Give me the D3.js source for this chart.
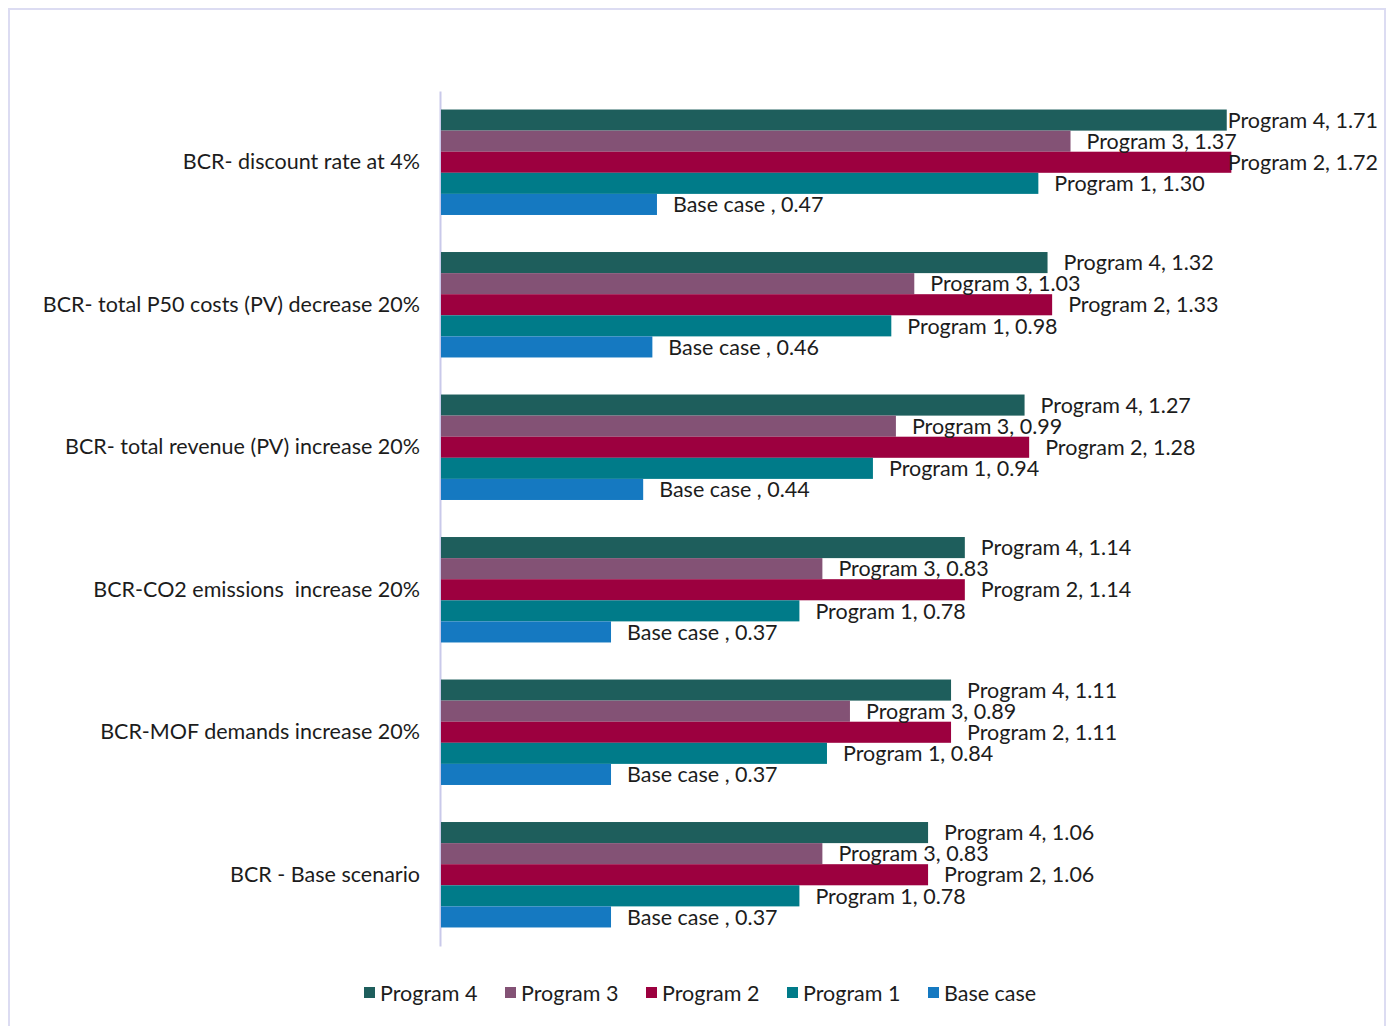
<!DOCTYPE html>
<html>
<head>
<meta charset="utf-8">
<script src="https://cdn.jsdelivr.net/npm/d3@7"></script>
<style>
  html, body { margin: 0; padding: 0; background: #fff; }
  svg { display: block; font-family: Lato, "Open Sans", sans-serif; }
  text { white-space: pre; }
</style>
</head>
<body>
<svg id="chart" width="1394" height="1026"></svg>
<script>
// Benefit-cost ratios per sensitivity scenario
const categories = [
  "BCR- discount rate at 4%",
  "BCR- total P50 costs (PV) decrease 20%",
  "BCR- total revenue (PV) increase 20%",
  "BCR-CO2 emissions  increase 20%",
  "BCR-MOF demands increase 20%",
  "BCR - Base scenario"
];
const seriesNames = ["Program 4", "Program 3", "Program 2", "Program 1", "Base case"];
const labelNames  = ["Program 4", "Program 3", "Program 2", "Program 1", "Base case "];
const program4 = [1.71, 1.32, 1.27, 1.14, 1.11, 1.06];
const program3 = [1.37, 1.03, 0.99, 0.83, 0.89, 0.83];
const program2 = [1.72, 1.33, 1.28, 1.14, 1.11, 1.06];
const program1 = [1.30, 0.98, 0.94, 0.78, 0.84, 0.78];
const baseCase = [0.47, 0.46, 0.44, 0.37, 0.37, 0.37];
const colors = ["#1e5e5c", "#835275", "#9c003f", "#007b89", "#1579c1"];

const seriesValues = [program4, program3, program2, program1, baseCase];
const fontSize = 21.5;

const svg = d3.select("#chart");

// outer frame
svg.append("path")
  .attr("d", "M9,1026V9H1385V1026")
  .attr("fill", "none")
  .attr("stroke", "#dcdcf2")
  .attr("stroke-width", 2);

const x = d3.scaleLinear().domain([0, 2]).range([441, 1360]);
const y = d3.scaleBand().domain(categories).range([91, 946])
  .paddingInner(0.26).paddingOuter(0.13);
const ySub = d3.scaleBand().domain(seriesNames).range([0, y.bandwidth()]);

// category axis
const axis = svg.append("g")
  .attr("transform", "translate(440,0)")
  .call(d3.axisLeft(y).tickSize(0).tickSizeOuter(0).tickPadding(20));
axis.select(".domain").attr("stroke", "#c9c9ea").attr("stroke-width", 2);
axis.selectAll(".tick text")
  .attr("font-family", "Lato, 'Open Sans', sans-serif")
  .attr("font-size", fontSize)
  .attr("fill", "#1c1c1c");

const rows = [];
categories.forEach((c, i) => {
  seriesNames.forEach((s, j) => {
    rows.push({ cat: c, series: s, label: labelNames[j], value: seriesValues[j][i], color: colors[j] });
  });
});

const bars = svg.append("g");
bars.selectAll("rect")
  .data(rows)
  .join("rect")
  .attr("x", x(0))
  .attr("y", d => y(d.cat) + ySub(d.series))
  .attr("width", d => x(d.value) - x(0))
  .attr("height", ySub.bandwidth())
  .attr("fill", d => d.color);

// value labels, kept inside the frame
const rightLimit = 1378;
const labels = svg.append("g");
labels.selectAll("text")
  .data(rows)
  .join("text")
  .attr("y", d => y(d.cat) + ySub(d.series) + ySub.bandwidth() / 2)
  .attr("dy", "0.36em")
  .attr("font-size", fontSize)
  .attr("fill", "#1c1c1c")
  .text(d => `${d.label}, ${d.value.toFixed(2)}`)
  .attr("x", function (d) {
    const w = this.getComputedTextLength();
    return Math.min(x(d.value) + 16, rightLimit - w);
  });

// legend
const legend = svg.append("g");
const legendX = d3.scalePoint().domain(seriesNames).range([364, 928]);
const item = legend.selectAll("g")
  .data(seriesNames)
  .join("g")
  .attr("transform", d => `translate(${legendX(d)},993)`);
item.append("rect")
  .attr("x", 0).attr("y", -6)
  .attr("width", 11).attr("height", 11)
  .attr("fill", (d, i) => colors[i]);
item.append("text")
  .attr("x", 16)
  .attr("dy", "0.36em")
  .attr("font-size", fontSize)
  .attr("fill", "#1c1c1c")
  .text(d => d);
</script>
</body>
</html>
